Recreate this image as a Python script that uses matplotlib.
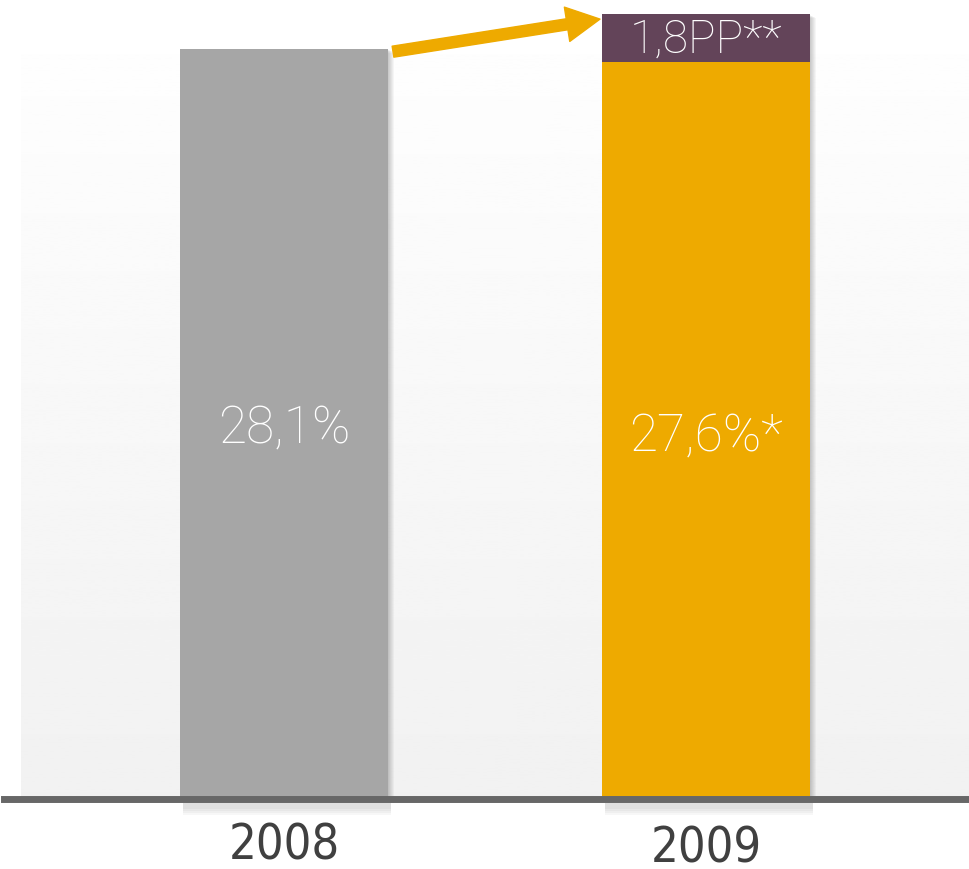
import numpy as np
import matplotlib.pyplot as plt
from matplotlib.patches import FancyArrowPatch

# данные
years = ["2008", "2009"]
base_values = [28.1, 27.6]
extra_values = [0.0, 1.8]
value_labels = ["28,1%", "27,6%*"]
extra_label = "1,8PP**"

col_gray = "#a6a6a6"
col_orange = "#eeaa00"
col_purple = "#634459"

W, H = 969, 870
fig = plt.figure(figsize=(W / 100, H / 100), dpi=100)
ax = fig.add_axes([0, 0, 1, 1])

# масштаб: центры столбцов 284 и 706 px, базовая линия на 800 px сверху
px_per_x = 422.0
px_per_y = 750 / 28.1
ax.set_xlim(-284 / px_per_x, (W - 284) / px_per_x)
ax.set_ylim(-(H - 800) / px_per_y, 800 / px_per_y)
ax.axis("off")

# фон с градиентом (сверху светлее)
grad = np.linspace(0.995, 0.945, 256).reshape(-1, 1)
ax.imshow(grad, cmap="gray", vmin=0, vmax=1, aspect="auto",
          extent=[21 / W, 1, (H - 800) / H, (H - 55) / H],
          transform=ax.transAxes, zorder=0)

x = np.arange(len(years))
w = 208 / px_per_x
totals = np.array(base_values) + np.array(extra_values)

# тени
for k in range(1, 7):
    dx = k / px_per_x
    ax.bar(x + dx, totals, width=w,
           bottom=-k * 0.6 / px_per_y, color="black", alpha=0.035, zorder=1)
# тень под базовой линией
for k in range(1, 5):
    ax.bar(x + 3 / px_per_x, (4 + 2 * k) / px_per_y, width=w,
           bottom=-(8 + 2 * k) / px_per_y, color="black", alpha=0.03, zorder=1)

colors = [col_gray, col_orange]
ax.bar(x, base_values, width=w, color=colors, zorder=2)
ax.bar(x, extra_values, width=w, bottom=base_values, color=col_purple, zorder=2)

# базовая линия
ax.axhline(0, xmin=4 / W, xmax=1, color="#676767", lw=5, zorder=3)

# подписи значений
lbl_font = dict(family=["Roboto", "DejaVu Sans"], weight="light")
ax.text(x[0], 13.9, value_labels[0], ha="center", va="center",
        color="white", fontsize=37, **lbl_font, zorder=4)
ax.text(x[1], 13.6, value_labels[1], ha="center", va="center",
        color="white", fontsize=37, **lbl_font, zorder=4)
ax.text(x[1], base_values[1] + extra_values[1] / 2, extra_label,
        ha="center", va="center", color="white", fontsize=33, **lbl_font, zorder=4)

# годы
for xi, yr, yy in zip(x, years, [-1.72, -1.82]):
    ax.text(xi, yy, yr, ha="center", va="center", color="#404040",
            fontsize=35, family="DejaVu Sans", stretch="condensed", zorder=4)

# стрелка
tail = (x[0] + w / 2 + 5 / px_per_x, base_values[0] - 0.1)
tip = (x[1] - w / 2 - 2 / px_per_x, base_values[1] + extra_values[1] * 0.9)
arr = FancyArrowPatch(tail, tip,
                      arrowstyle="simple,head_length=24,head_width=25,tail_width=8",
                      mutation_scale=1, shrinkA=0, shrinkB=0,
                      color=col_orange, zorder=4)
ax.add_patch(arr)

fig.savefig("out.png", dpi=100)
